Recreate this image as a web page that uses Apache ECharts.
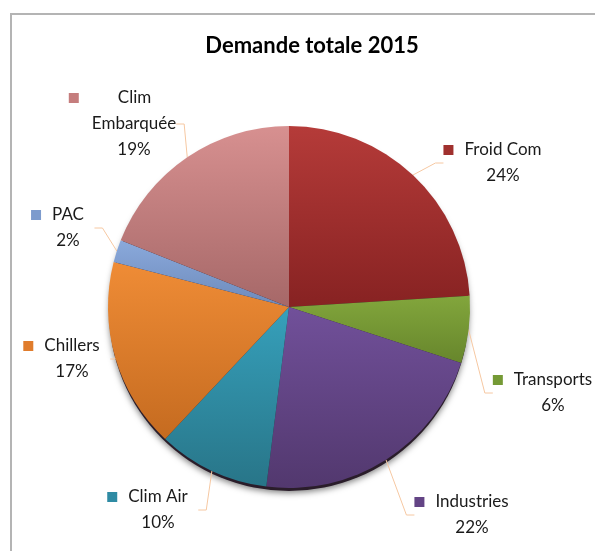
<!DOCTYPE html>
<html>
<head>
<meta charset="utf-8">
<script src="https://cdn.jsdelivr.net/npm/echarts@6/dist/echarts.min.js"></script>
<style>
  html, body { margin: 0; padding: 0; background: #fff; overflow: hidden; }
  #frame { position: absolute; left: 10px; top: 13px; width: 700px; height: 700px;
           border-left: 2px solid #b4b4b4; border-top: 2px solid #b4b4b4; }
  #chart { position: absolute; left: 0; top: 0; width: 595px; height: 551px; }
</style>
</head>
<body>
<div id="frame"></div>
<div id="chart"></div>
<script>
// données : demande totale 2015 (%)
var categories = ['Froid Com', 'Transports', 'Industries', 'Clim Air', 'Chillers', 'PAC', 'Clim Embarquée'];
var values = [24, 6, 22, 10, 17, 2, 19];
var titleText = 'Demande totale 2015';

// couleurs haut / bas de chaque part (dégradé)
var topColors = ['#b53b39', '#82a63c', '#71509a', '#36a0bb', '#ef8c36', '#8aa9db', '#d79090'];
var botColors = ['#872222', '#67862c', '#52386e', '#287588', '#c56b20', '#6d8abb', '#a66868'];
var keyColors = ['#a0302e', '#759a35', '#634485', '#2f8ba4', '#e07c2c', '#7d9bcd', '#c57d7d'];

// position des étiquettes (centre du texte)
var labelPos = [[503, 163], [553, 393], [472, 515], [158, 510], [72, 359], [68, 228], [134, 124]];

var chart = echarts.init(document.getElementById('chart'));

var rich = {
    t: { fontFamily: 'Lato', fontSize: 17, color: '#1a1a1a', lineHeight: 26 },
    gap: { width: 11 },
    pad: { width: 21 },
    gap2: { width: 39 },
    pad2: { width: 48 }
};
keyColors.forEach(function (c, i) {
    rich['k' + i] = { width: 10, height: 10, backgroundColor: c };
});

var seriesData = categories.map(function (name, i) {
    return {
        name: name,
        value: values[i],
        itemStyle: {
            color: new echarts.graphic.LinearGradient(0, 0, 0, 1, [
                { offset: 0, color: topColors[i] },
                { offset: 1, color: botColors[i] }
            ])
        }
    };
});

var option = {
    animation: false,
    title: {
        text: titleText,
        left: 307,
        top: 30,
        textAlign: 'center',
        textStyle: { fontFamily: 'Lato', fontSize: 22, fontWeight: 'bold', color: '#000' }
    },
    graphic: [{
        type: 'circle',
        z: 0,
        shape: { cx: 289, cy: 311, r: 180 },
        style: { fill: '#2a1d2a', shadowBlur: 6, shadowColor: 'rgba(0,0,0,0.5)', shadowOffsetY: 2 }
    }],
    series: [{
        type: 'pie',
        center: [289, 307],
        radius: 181,
        startAngle: 90,
        clockwise: true,
        z: 2,
        data: seriesData,
        label: {
            show: true,
            align: 'center',
            overflow: 'none',
            formatter: function (p) {
                var i = p.dataIndex;
                if (p.name === 'Clim Embarquée') {
                    return '{k' + i + '|}{gap2|}{t|Clim}{pad2|}\n{t|Embarquée}\n{t|' + p.percent + '%}';
                }
                return '{k' + i + '|}{gap|}{t|' + p.name + '}{pad|}\n{t|' + p.percent + '%}';
            },
            rich: rich
        },
        labelLine: {
            show: true,
            length: 12,
            length2: 8,
            lineStyle: { color: '#f6c8a2', width: 1 }
        },
        labelLayout: function (params) {
            var pos = labelPos[params.dataIndex];
            return { x: pos[0], y: pos[1], align: 'center', verticalAlign: 'middle' };
        }
    }]
};

chart.setOption(option);
</script>
</body>
</html>
